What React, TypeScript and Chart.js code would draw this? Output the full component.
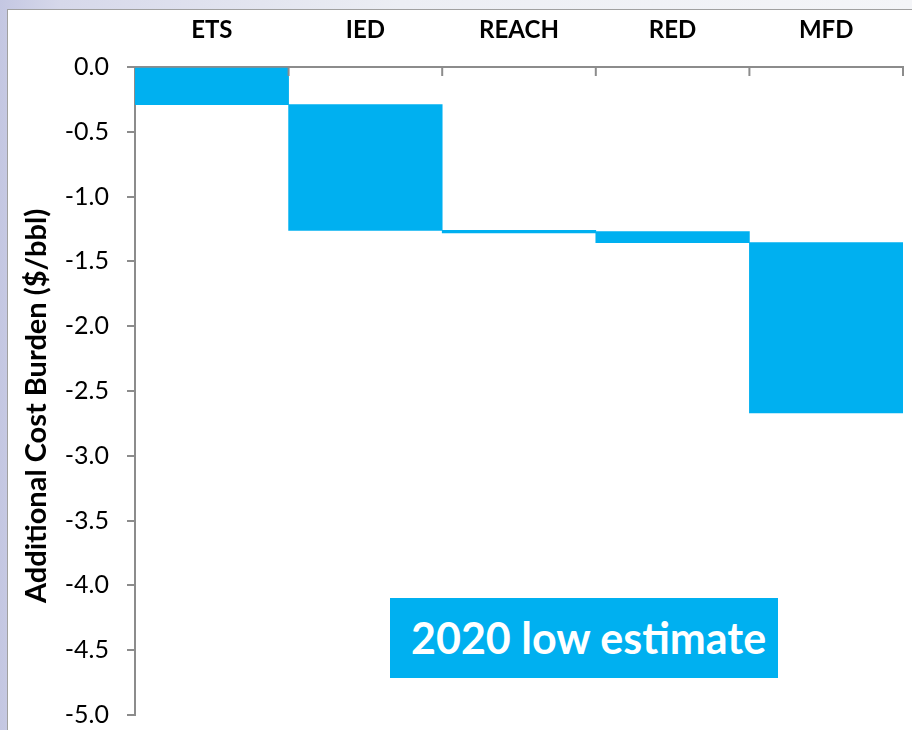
import React, { useEffect, useRef } from "react";
import { Chart, registerables } from "chart.js";

Chart.register(...registerables);

const categories = ["ETS", "IED", "REACH", "RED", "MFD"];
const barStart = [0, -0.29, -1.26, -1.27, -1.355];
const barEnd = [-0.29, -1.26, -1.28, -1.355, -2.67];
const thinStart = [null, null, null, 0, null];
const thinEnd = [null, null, null, 0.008, null];
const yTicks = [0, -0.5, -1, -1.5, -2, -2.5, -3, -3.5, -4, -4.5, -5];
const yTitle = "Additional Cost Burden ($/bbl)";
const boxLabel = "2020 low estimate";

const BLUE = "#00B0F0";
const GRAY = "#8c8c8c";
const FONT = "Lato, 'Open Sans', sans-serif";

export default function App() {
  const ref = useRef<HTMLCanvasElement>(null);
  useEffect(() => {
    document.body.style.margin = "0";
    const ctx = ref.current!;
    const inwardTicks = {
      id: "inwardTicks",
      afterDraw(chart: any) {
        const x = chart.scales.x;
        const y = chart.scales.y;
        const c = chart.ctx;
        const top = y.getPixelForValue(0);
        c.save();
        c.strokeStyle = GRAY;
        c.lineWidth = 2;
        const n = categories.length;
        for (let i = 1; i <= n; i++) {
          const px = i < n ? (x.getPixelForValue(i - 1) + x.getPixelForValue(i)) / 2 : x.right;
          c.beginPath();
          c.moveTo(px, top);
          c.lineTo(px, top + 9);
          c.stroke();
        }
        // y title
        c.fillStyle = "#000";
        c.font = "bold 29px " + FONT;
        c.textAlign = "center";
        c.textBaseline = "middle";
        c.translate(37, 406);
        c.rotate(-Math.PI / 2);
        c.fillText(yTitle, 0, 0);
        c.restore();
      },
    };
    const chart = new Chart(ctx, {
      type: "bar",
      data: {
        labels: categories,
        datasets: [
          {
            data: categories.map((_, i) => [barStart[i], barEnd[i]]) as any,
            backgroundColor: BLUE,
            borderWidth: 0,
            barPercentage: 1,
            categoryPercentage: 1,
            grouped: false,
          },
          {
            data: categories.map((_, i) =>
              thinStart[i] === null ? null : [thinStart[i], thinEnd[i]]
            ) as any,
            backgroundColor: "#3aa8d8",
            borderWidth: 0,
            barPercentage: 1,
            categoryPercentage: 1,
            grouped: false,
          },
        ],
      },
      options: {
        animation: false,
        responsive: false,
        maintainAspectRatio: false,
        layout: { padding: { left: 0, right: 9, top: 0, bottom: 15 } },
        plugins: { legend: { display: false }, tooltip: { enabled: false } },
        scales: {
          x: {
            position: "top",
            offset: true,
            grid: { display: false, drawOnChartArea: false, drawTicks: false },
            border: { display: true, color: GRAY, width: 2 },
            ticks: {
              color: "#000",
              font: { family: FONT, size: 24, weight: "bold" },
              padding: 22,
            },
            afterFit: (s: any) => {
              s.height = 67;
              s.paddingLeft = 0;
              s.paddingRight = 0;
            },
          },
          y: {
            min: -5,
            max: 0,
            afterBuildTicks: (s: any) => {
              s.ticks = yTicks.map((v) => ({ value: v }));
            },
            grid: {
              drawOnChartArea: false,
              drawTicks: true,
              tickLength: 8,
              color: GRAY,
              lineWidth: 2,
            },
            border: { display: true, color: GRAY, width: 2 },
            ticks: {
              color: "#000",
              font: { family: FONT, size: 25 },
              padding: 18,
              callback: (v: any) => Number(v).toFixed(1),
            },
            afterFit: (s: any) => {
              s.width = 135;
              s.paddingTop = 0;
              s.paddingBottom = 0;
            },
          },
        },
      },
      plugins: [inwardTicks],
    });
    return () => chart.destroy();
  }, []);

  return (
    <div
      style={{
        position: "relative",
        width: 912,
        height: 730,
        overflow: "hidden",
        background: "linear-gradient(90deg, #c4c7e2 0px, #d6d8ea 60px, #eceef4 400px, #f4f5f8 912px)",
      }}
    >
      <div
        style={{
          position: "absolute",
          left: 7,
          top: 9,
          width: 920,
          height: 740,
          background: "#fff",
          borderLeft: "1px solid #a0a0a0",
          borderTop: "1px solid #a0a0a0",
        }}
      />
      <canvas
        ref={ref}
        width={912}
        height={730}
        style={{ position: "absolute", left: 0, top: 0, width: 912, height: 730 }}
      />
      <div
        style={{
          position: "absolute",
          left: 390,
          top: 598,
          width: 388,
          height: 80,
          background: BLUE,
          color: "#fff",
          fontFamily: FONT,
          fontWeight: "bold",
          fontSize: 43,
          lineHeight: "80px",
          paddingLeft: 21,
          boxSizing: "border-box",
          whiteSpace: "nowrap",
          overflow: "hidden",
        }}
      >
        {boxLabel}
      </div>
    </div>
  );
}
